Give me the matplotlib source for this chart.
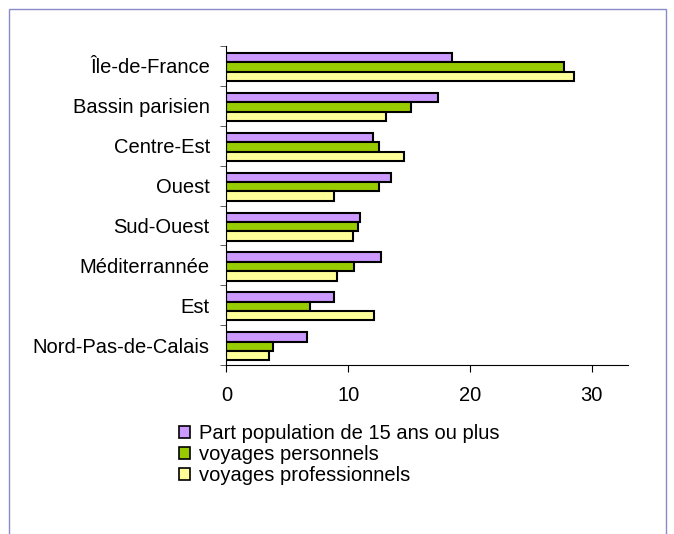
import numpy as np
import matplotlib
matplotlib.use('Agg')
import matplotlib.pyplot as plt
from matplotlib.patches import Patch, Rectangle

plt.rcParams['font.family'] = ['Liberation Sans', 'DejaVu Sans']

regions = ['Île-de-France', 'Bassin parisien', 'Centre-Est', 'Ouest',
           'Sud-Ouest', 'Méditerrannée', 'Est', 'Nord-Pas-de-Calais']
part_pop = [18.5, 17.4, 12.0, 13.5, 11.0, 12.7, 8.8, 6.6]
voy_perso = [27.7, 15.2, 12.5, 12.5, 10.8, 10.5, 6.9, 3.8]
voy_pro = [28.6, 13.1, 14.6, 8.8, 10.4, 9.1, 12.1, 3.5]
series_names = ['Part population de 15 ans ou plus', 'voyages personnels',
                'voyages professionnels']
colours = ['#CC99FF', '#99CC00', '#FFFF99']

fs = 14.5

fig = plt.figure(figsize=(6.74, 5.34), dpi=100)
# outer frame
fig.patches.append(Rectangle((9/674, -0.05), 657/674, 1.05 - 9/534,
                             transform=fig.transFigure, fill=False,
                             edgecolor='#8A8AC8', linewidth=1.0))

ax = fig.add_axes([226.5/674, 1-365/534, (628-226.5)/674, (365-46)/534])

n = len(regions)
pos = np.arange(n)
h = 0.235
for i, vals in enumerate([part_pop, voy_perso, voy_pro]):
    ax.barh(pos + (i - 1) * h + 0.03, vals, height=h, color=colours[i],
            edgecolor='black', linewidth=1.5, label=series_names[i])

ax.set_ylim(n - 0.5, -0.5)
ax.set_xlim(0, 33)
ax.set_xticks([0, 10, 20, 30])
ax.set_yticks(pos)
ax.set_yticklabels(regions)
ax.set_yticks(np.arange(n + 1) - 0.5, minor=True)
ax.tick_params(axis='y', which='major', length=0, pad=12, labelsize=fs)
ax.tick_params(axis='y', which='minor', length=4, color='#444444')
ax.tick_params(axis='x', length=5, labelsize=fs, pad=10)
for s in ['top', 'right']:
    ax.spines[s].set_visible(False)

handles = [Patch(facecolor=c, edgecolor='black', linewidth=1.2) for c in colours]
fig.legend(handles, series_names, loc='upper left',
           bbox_to_anchor=(171/674, 1-416/534), frameon=False,
           fontsize=fs, handlelength=0.55, handleheight=0.55,
           handletextpad=0.45, labelspacing=0.1, borderaxespad=0)

fig.savefig('out.png', dpi=100)
